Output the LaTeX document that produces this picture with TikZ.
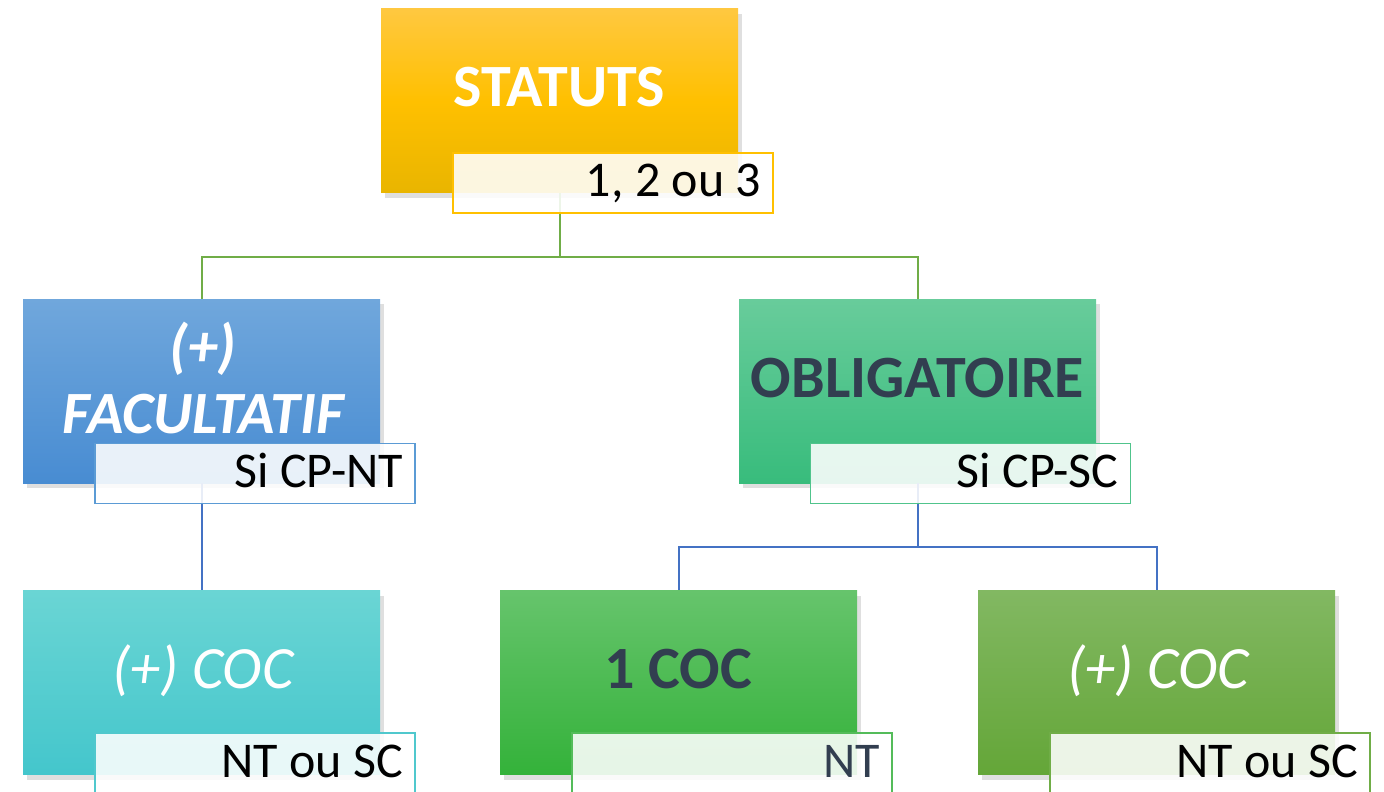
\documentclass[tikz,border=0pt]{standalone}
\usepackage{fontspec}
\setmainfont{Carlito}
\usetikzlibrary{shadows}
\definecolor{gline}{RGB}{112,173,71}
\definecolor{bline}{RGB}{68,114,196}
\definecolor{darktxt}{RGB}{50,62,80}
\definecolor{yelT}{RGB}{255,200,64}
\definecolor{yelB}{RGB}{233,181,0}
\definecolor{yelE}{RGB}{255,192,0}
\definecolor{bluT}{RGB}{112,167,220}
\definecolor{bluB}{RGB}{72,140,210}
\definecolor{bluE}{RGB}{91,155,213}
\definecolor{grnT}{RGB}{104,204,155}
\definecolor{grnB}{RGB}{56,188,124}
\definecolor{grnE}{RGB}{80,196,140}
\definecolor{cyaT}{RGB}{106,213,212}
\definecolor{cyaB}{RGB}{68,198,204}
\definecolor{cyaE}{RGB}{80,200,205}
\definecolor{ungT}{RGB}{102,196,108}
\definecolor{ungB}{RGB}{52,178,58}
\definecolor{ungE}{RGB}{84,188,90}
\definecolor{olvT}{RGB}{130,184,98}
\definecolor{olvB}{RGB}{100,166,56}
\definecolor{olvE}{RGB}{112,173,71}
\newcommand{\lbltxt}[1]{\makebox[148pt][r]{#1}}
\tikzset{
  mainbox/.style={rectangle, draw=none, minimum width=178.5pt, minimum height=92pt,
    inner sep=0pt, drop shadow={shadow xshift=2pt, shadow yshift=-2.5pt, opacity=0.25}},
  lblbox/.style={rectangle, line width=0.75pt, fill=white, fill opacity=0.88, text opacity=1,
    minimum width=160pt, minimum height=30pt, inner ysep=0pt, inner xsep=6pt,
    text height=22pt, text depth=8pt,
    font=\fontsize{25}{28}\selectfont},
  bigtxt/.style={font=\fontsize{30}{33.5}\selectfont\bfseries, inner sep=0pt},
  bigit/.style={font=\fontsize{30}{33.5}\selectfont\itshape, inner sep=0pt},
  gconn/.style={draw=gline, line width=1pt},
  bconn/.style={draw=bline, line width=1pt}
}
\begin{document}
\begin{tikzpicture}[x=0.5pt,y=-0.5pt]
\useasboundingbox (0,0) rectangle (1384,791);
\clip (0,0) rectangle (1384,791);
% junction points
\coordinate (j1) at (559.5,257);
\coordinate (j2) at (917.5,547);
% main boxes
\node[mainbox, top color=yelT, bottom color=yelB, middle color=yelE] (statuts) at (559.5,101) {};
\node[mainbox, top color=bluT, bottom color=bluB] (facult) at (201.5,391) {};
\node[mainbox, top color=grnT, bottom color=grnB] (oblig) at (917.5,391) {};
\node[mainbox, top color=cyaT, bottom color=cyaB] (cocA) at (201.5,682.5) {};
\node[mainbox, top color=ungT, bottom color=ungB] (un) at (678.5,682.5) {};
\node[mainbox, top color=olvT, bottom color=olvB] (cocB) at (1156.5,682.5) {};
% connectors
\draw[gconn] (statuts.south) -- (j1) -| (facult.north);
\draw[gconn] (j1) -| (oblig.north);
\draw[bconn] (facult.south) -- (cocA.north);
\draw[bconn] (oblig.south) -- (j2) -| (un.north);
\draw[bconn] (j2) -| (cocB.north);
% main texts
\node[bigtxt, text=white, anchor=base] (statutsT) at (559.5,107) {STATUTS};
\node[font=\fontsize{30}{33.5}\selectfont\bfseries\itshape, inner sep=0pt, text=white, align=center] (facultT) at (203,378) {(+)\\FACULTATIF};
\node[bigtxt, text=darktxt, anchor=base] (obligT) at (917.5,397) {OBLIGATOIRE};
\node[bigit, text=white, anchor=base] (cocAT) at (203,688) {(+) COC};
\node[bigtxt, text=darktxt, anchor=base] (unT) at (678.5,688) {1 COC};
\node[bigit, text=white, anchor=base] (cocBT) at (1158,688) {(+) COC};
% label boxes
\node[lblbox, draw=yelE] (statutsL) at (613,183) {\lbltxt{1, 2 ou 3}};
\node[lblbox, draw=bluE] (facultL) at (255,473.5) {\lbltxt{Si CP-NT}};
\node[lblbox, draw=grnE] (obligL) at (970.5,473.5) {\lbltxt{Si CP-SC}};
\node[lblbox, draw=cyaE] (cocAL) at (255,763) {\lbltxt{NT ou SC}};
\node[lblbox, draw=ungE, text=darktxt] (unL) at (732,763) {\lbltxt{NT}};
\node[lblbox, draw=olvE] (cocBL) at (1210,763) {\lbltxt{NT ou SC}};
\end{tikzpicture}
\end{document}
